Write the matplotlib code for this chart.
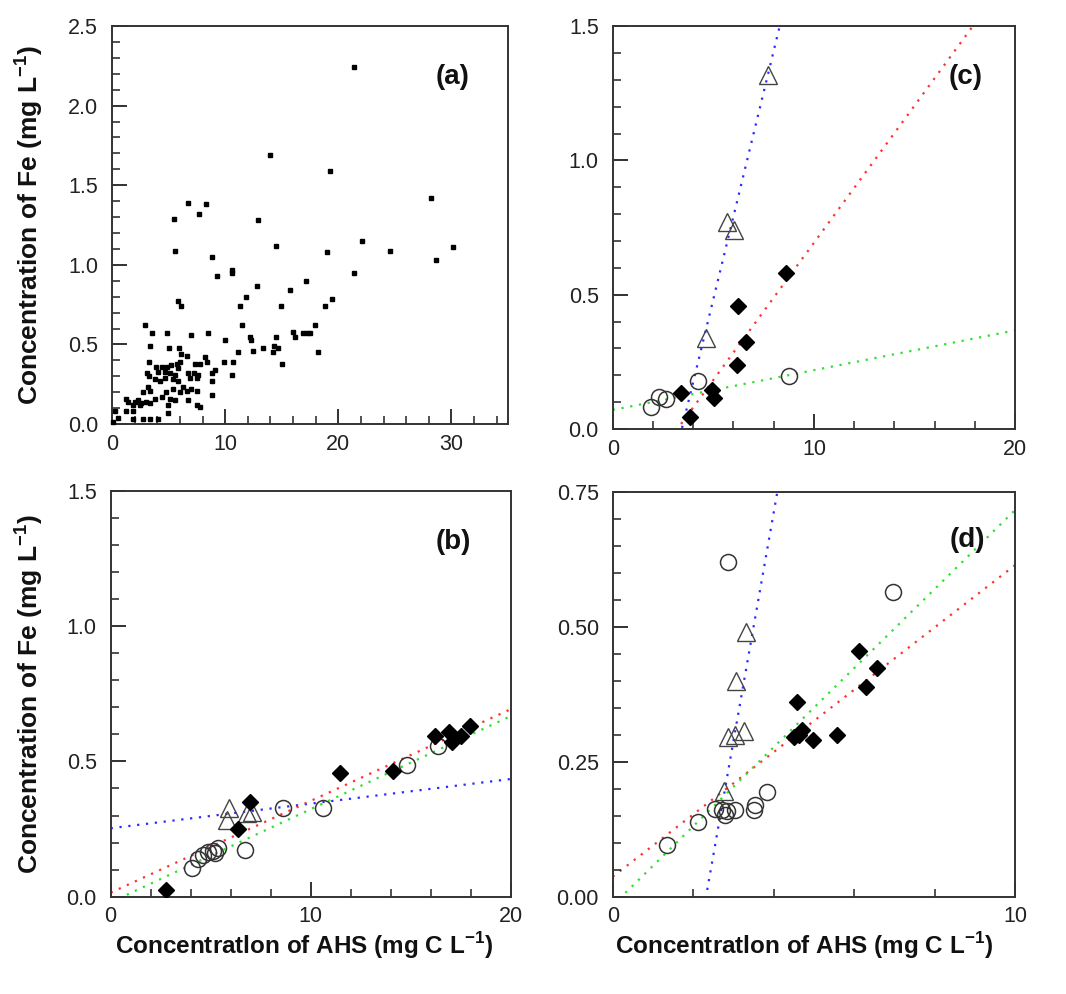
import matplotlib
matplotlib.use("Agg")
import matplotlib.pyplot as plt
from matplotlib.ticker import MultipleLocator, FixedLocator, FormatStrFormatter

plt.rcParams['font.family'] = ['Liberation Sans', 'DejaVu Sans']
plt.rcParams['mathtext.fontset'] = 'custom'
plt.rcParams['mathtext.rm'] = 'Liberation Sans'
plt.rcParams['mathtext.bf'] = 'Liberation Sans:bold'
plt.rcParams['xtick.direction'] = 'in'
plt.rcParams['ytick.direction'] = 'in'

# ---------------- data ----------------
# panel (a): all samples
a_x = [21.4, 14.0, 19.3, 28.2, 6.75, 8.3, 7.7, 5.5, 12.9, 14.5, 22.1, 24.6, 30.1, 19.0, 5.6,
       28.6, 8.8, 10.6, 10.6, 9.3, 21.4, 12.8, 17.1, 15.7, 11.8, 11.3, 14.9, 19.4, 18.8, 5.8,
       6.1, 11.5, 12.15, 12.3, 14.5, 16.0, 16.2, 16.9, 17.2, 17.5, 17.9, 12.45, 13.3, 14.2,
       14.3, 14.7, 18.2, 15.0,
       2.95, 3.57, 4.86, 7.0, 8.5, 9.97, 3.33, 5.04, 5.9, 6.08, 6.64, 8.2, 11.1, 9.9, 10.7,
       3.25, 6.0, 7.3, 7.8, 8.4, 3.9, 4.4, 4.9, 5.25, 5.8, 5.7, 4.07, 4.66, 5.1, 5.55, 6.7,
       7.2, 7.6, 3.13, 3.25, 9.1, 8.8, 10.6, 3.78, 4.22, 4.66, 5.4, 5.84, 6.9, 7.5, 8.8,
       3.2, 2.74, 3.33, 5.4, 6.3, 6.6, 7.0, 7.5, 6.0, 4.8, 8.8, 4.4, 3.8, 5.1, 5.55, 6.7,
       2.3, 2.6, 3.04, 2.0, 1.4, 1.86, 2.45, 3.33, 1.27, 4.96, 7.5, 7.8, 0.3, 1.27, 1.86,
       4.96, 0.53, 1.86, 2.74, 3.33, 4.07, 0.05]
a_y = [2.24, 1.69, 1.59, 1.42, 1.39, 1.38, 1.32, 1.29, 1.28, 1.12, 1.15, 1.09, 1.11, 1.08, 1.09,
       1.03, 1.05, 0.97, 0.95, 0.93, 0.95, 0.87, 0.90, 0.84, 0.80, 0.74, 0.74, 0.785, 0.74, 0.77,
       0.74, 0.62, 0.545, 0.53, 0.545, 0.58, 0.545, 0.57, 0.57, 0.57, 0.62, 0.46, 0.48, 0.45,
       0.49, 0.48, 0.45, 0.38,
       0.62, 0.57, 0.57, 0.56, 0.57, 0.53, 0.49, 0.475, 0.475, 0.44, 0.43, 0.42, 0.45, 0.39, 0.39,
       0.39, 0.39, 0.38, 0.38, 0.39, 0.36, 0.36, 0.36, 0.37, 0.35, 0.38, 0.33, 0.33, 0.32, 0.31, 0.32,
       0.32, 0.31, 0.32, 0.30, 0.34, 0.32, 0.31, 0.28, 0.27, 0.29, 0.28, 0.27, 0.29, 0.29, 0.27,
       0.23, 0.20, 0.21, 0.22, 0.23, 0.21, 0.22, 0.21, 0.20, 0.20, 0.18, 0.17, 0.16, 0.16, 0.15, 0.15,
       0.15, 0.13, 0.14, 0.14, 0.14, 0.12, 0.12, 0.13, 0.16, 0.12, 0.12, 0.11, 0.085, 0.085, 0.085,
       0.07, 0.035, 0.03, 0.03, 0.03, 0.03, 0.01]

# panel (b)
b_dia_x = [2.75, 6.38, 6.97, 11.47, 14.13, 16.2, 16.93, 17.05, 17.5, 17.97]
b_dia_y = [0.025, 0.25, 0.35, 0.456, 0.465, 0.595, 0.61, 0.573, 0.595, 0.63]
b_cir_x = [4.08, 4.38, 4.63, 4.88, 5.13, 5.38, 5.2, 6.72, 8.63, 10.6, 14.8, 16.35]
b_cir_y = [0.105, 0.14, 0.154, 0.167, 0.17, 0.18, 0.16, 0.172, 0.327, 0.327, 0.487, 0.558]
b_tri_x = [5.93, 5.8, 7.05, 6.8]
b_tri_y = [0.327, 0.283, 0.314, 0.31]
b_fit = {'blue': (0.0091, 0.253), 'red': (0.0339, 0.015), 'green': (0.0344, -0.0206)}

# panel (c)
c_dia_x = [8.61, 6.25, 6.62, 6.17, 4.93, 5.04, 3.4, 3.85]
c_dia_y = [0.582, 0.458, 0.325, 0.238, 0.145, 0.114, 0.135, 0.043]
c_cir_x = [8.74, 4.26, 1.89, 2.32, 2.65]
c_cir_y = [0.197, 0.179, 0.081, 0.12, 0.11]
c_tri_x = [7.74, 5.67, 6.05, 4.64]
c_tri_y = [1.317, 0.772, 0.74, 0.337]
c_fit = {'blue': (0.308, -1.057), 'red': (0.1021, -0.328), 'green': (0.0148, 0.071)}

# panel (d)
d_dia_x = [6.13, 6.58, 6.29, 4.59, 4.70, 4.51, 4.99, 5.58, 4.62]
d_dia_y = [0.455, 0.424, 0.389, 0.361, 0.309, 0.295, 0.291, 0.30, 0.30]
d_cir_x = [2.86, 6.96, 1.34, 2.13, 2.55, 2.72, 2.8, 2.85, 3.03, 3.54, 3.52, 3.83]
d_cir_y = [0.62, 0.565, 0.096, 0.139, 0.163, 0.16, 0.152, 0.158, 0.16, 0.17, 0.16, 0.194]
d_tri_x = [3.31, 3.06, 2.87, 3.03, 3.26, 2.77]
d_tri_y = [0.49, 0.40, 0.296, 0.30, 0.307, 0.196]
d_fit = {'blue': (0.423, -0.981), 'red': (0.0577, 0.037), 'green': (0.0732, -0.016)}

line_colors = {'blue': '#2b2bff', 'red': '#ff3030', 'green': '#2ee02e'}

ylabel = r'Concentration of Fe (mg L$^{\mathbf{-1}}$)'
xlabel = r'Concentratlon of AHS (mg C L$^{\mathbf{-1}}$)'

# ---------------- figure ----------------
fig = plt.figure(figsize=(10.66, 9.94), dpi=100)
ax_a = fig.add_axes([0.1051, 0.5734, 0.3715, 0.4004])
ax_c = fig.add_axes([0.5748, 0.5684, 0.3774, 0.4054])
ax_b = fig.add_axes([0.1038, 0.0979, 0.3752, 0.4082])
ax_d = fig.add_axes([0.5748, 0.0979, 0.3774, 0.4074])


def style(ax, xlim, ylim, xmaj, xmin, ymaj, ymin, yfmt):
    ax.set_xlim(*xlim)
    ax.set_ylim(*ylim)
    ax.xaxis.set_major_locator(xmaj)
    ax.xaxis.set_minor_locator(xmin)
    ax.yaxis.set_major_locator(MultipleLocator(ymaj))
    ax.yaxis.set_minor_locator(MultipleLocator(ymin))
    ax.yaxis.set_major_formatter(FormatStrFormatter(yfmt))
    ax.tick_params(which='major', direction='in', length=11, width=1.3, color='#222222',
                   labelsize=15.5, labelcolor='#222222', pad=7, top=False, right=False)
    ax.tick_params(which='minor', direction='in', length=6, width=1.1, color='#222222',
                   top=False, right=False)
    ax.tick_params(axis='y', pad=10)
    for s in ax.spines.values():
        s.set_linewidth(1.4)
        s.set_color('#333333')


def draw_group(ax, dx, dy, cx, cy, tx, ty, fits, xlim):
    for name in ['blue', 'red', 'green']:
        m, b = fits[name]
        ax.plot([xlim[0], xlim[1]], [m * xlim[0] + b, m * xlim[1] + b],
                linestyle=(0, (1, 3)), linewidth=1.6, color=line_colors[name], zorder=1)
    ax.plot(cx, cy, 'o', ms=11.5, mfc='none', mec='#333333', mew=1.1, zorder=3)
    ax.plot(tx, ty, '^', ms=12.5, mfc='none', mec='#444444', mew=1.0, zorder=3)
    ax.plot(dx, dy, 'D', ms=8.5, mfc='black', mec='black', zorder=4)


# (a)
ax_a.plot(a_x, a_y, 's', ms=2.6, color='black', zorder=3, clip_on=False)
style(ax_a, (0, 35), (0, 2.5), MultipleLocator(10), MultipleLocator(2), 0.5, 0.1, '%.1f')

# (b)
draw_group(ax_b, b_dia_x, b_dia_y, b_cir_x, b_cir_y, b_tri_x, b_tri_y, b_fit, (0, 20))
style(ax_b, (0, 20), (0, 1.5), MultipleLocator(10), MultipleLocator(2), 0.5, 0.1, '%.1f')

# (c)
draw_group(ax_c, c_dia_x, c_dia_y, c_cir_x, c_cir_y, c_tri_x, c_tri_y, c_fit, (0, 20))
style(ax_c, (0, 20), (0, 1.5), MultipleLocator(10), MultipleLocator(2), 0.5, 0.1, '%.1f')

# (d)
draw_group(ax_d, d_dia_x, d_dia_y, d_cir_x, d_cir_y, d_tri_x, d_tri_y, d_fit, (0, 10))
style(ax_d, (0, 10), (0, 0.75), FixedLocator([0, 10]), FixedLocator([2, 4, 6, 8]), 0.25, 0.05, '%.2f')

# panel letters
for ax, t, pos in [(ax_a, '(a)', (0.859, 0.872)), (ax_c, '(c)', (0.876, 0.873)),
                   (ax_b, '(b)', (0.856, 0.874)), (ax_d, '(d)', (0.881, 0.881))]:
    ax.text(pos[0], pos[1], t, transform=ax.transAxes, ha='center', va='center',
            fontsize=20, fontweight='bold', color='#111111')

# axis titles
for yc in (0.774, 0.302):
    fig.text(0.027, yc, ylabel, rotation=90, ha='center', va='center', fontsize=19,
             fontweight='bold', color='#111111')
for xc in (0.2852, 0.7545):
    fig.text(xc, 0.049, xlabel, ha='center', va='center', fontsize=17.5,
             fontweight='bold', color='#111111')

fig.savefig('out.png', dpi=100)
